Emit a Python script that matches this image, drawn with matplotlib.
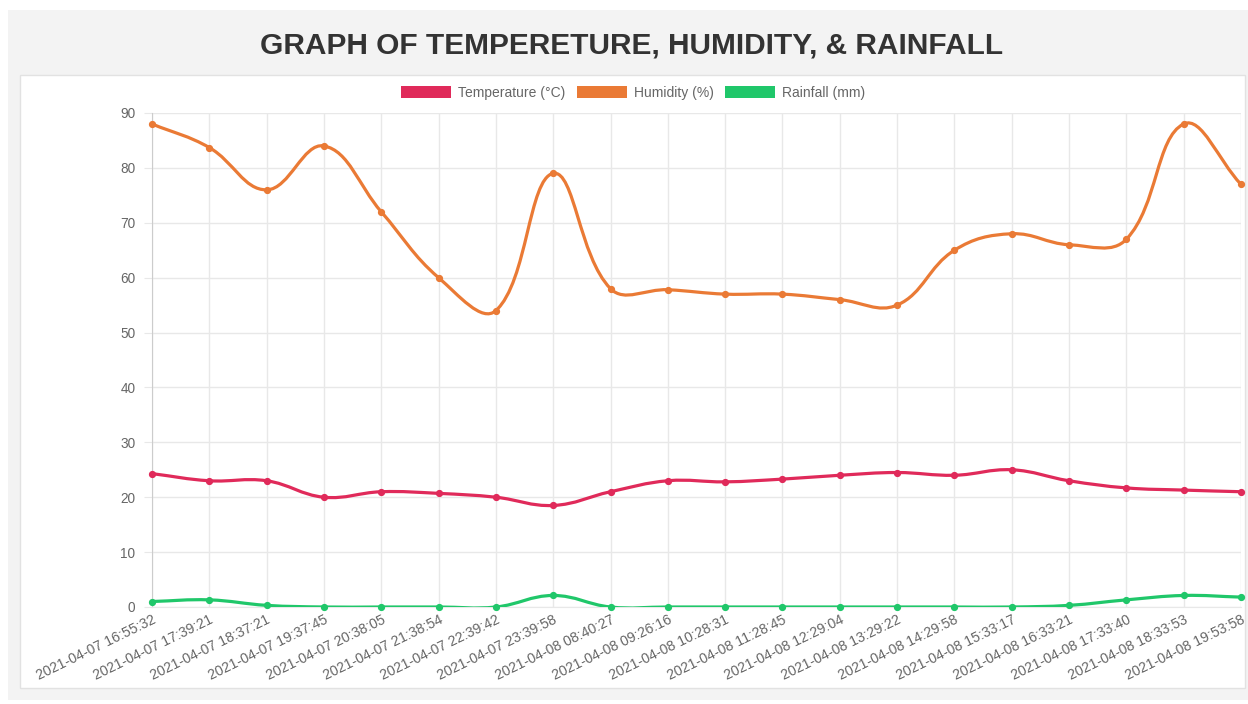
import numpy as np
import matplotlib.pyplot as plt
from matplotlib.path import Path
from matplotlib.patches import PathPatch, Rectangle

plt.rcParams['font.family'] = ['Liberation Sans', 'DejaVu Sans']

# data
times = ['2021-04-07 16:55:32', '2021-04-07 17:39:21', '2021-04-07 18:37:21',
         '2021-04-07 19:37:45', '2021-04-07 20:38:05', '2021-04-07 21:38:54',
         '2021-04-07 22:39:42', '2021-04-07 23:39:58', '2021-04-08 08:40:27',
         '2021-04-08 09:26:16', '2021-04-08 10:28:31', '2021-04-08 11:28:45',
         '2021-04-08 12:29:04', '2021-04-08 13:29:22', '2021-04-08 14:29:58',
         '2021-04-08 15:33:17', '2021-04-08 16:33:21', '2021-04-08 17:33:40',
         '2021-04-08 18:33:53', '2021-04-08 19:53:58']
temperature = [24.3, 23.0, 23.0, 20.0, 21.0, 20.7, 20.0, 18.5, 21.0, 23.0,
               22.8, 23.3, 24.0, 24.5, 24.0, 25.0, 23.0, 21.7, 21.3, 21.0]
humidity = [88, 83.7, 76, 84, 72, 60, 54, 79, 58, 57.8,
            57, 57, 56, 55, 65, 68, 66, 67, 88, 77]
rainfall = [1.0, 1.3, 0.3, 0, 0, 0, 0, 2.1, 0, 0,
            0, 0, 0, 0, 0, 0, 0.3, 1.3, 2.1, 1.8]

series = [('Temperature (°C)', temperature, '#e02a5a'),
          ('Humidity (%)', humidity, '#ea7a35'),
          ('Rainfall (mm)', rainfall, '#20c76a')]

XPX = 57.3   # px per category
YPX = 5.49   # px per unit


def spline_path(xs, ys, t=0.4):
    # chart.js style cubic bezier through the points
    px = np.asarray(xs, float) * XPX
    py = np.asarray(ys, float) * YPX
    n = len(px)
    cp_prev = np.zeros((n, 2))
    cp_next = np.zeros((n, 2))
    for i in range(n):
        a = max(i - 1, 0)
        b = min(i + 1, n - 1)
        d01 = np.hypot(px[i] - px[a], py[i] - py[a])
        d12 = np.hypot(px[b] - px[i], py[b] - py[i])
        tot = d01 + d12
        s01 = d01 / tot if tot else 0
        s12 = d12 / tot if tot else 0
        dx, dy = px[b] - px[a], py[b] - py[a]
        cp_prev[i] = [px[i] - t * s01 * dx, py[i] - t * s01 * dy]
        cp_next[i] = [px[i] + t * s12 * dx, py[i] + t * s12 * dy]
    verts = [(px[0], py[0])]
    codes = [Path.MOVETO]
    for i in range(1, n):
        verts += [tuple(cp_next[i - 1]), tuple(cp_prev[i]), (px[i], py[i])]
        codes += [Path.CURVE4] * 3
    verts = [(vx / XPX, vy / YPX) for vx, vy in verts]
    return Path(verts, codes)


fig = plt.figure(figsize=(12.48, 7.04), dpi=100)
fig.patch.set_facecolor('white')

# gray panel + white card
fig.patches.append(Rectangle((8 / 1248, 4 / 704), 1240 / 1248, 690 / 704,
                             transform=fig.transFigure, facecolor='#f3f3f3',
                             edgecolor='none', zorder=-3))
fig.patches.append(Rectangle((20 / 1248, (704 - 688) / 704), 1225 / 1248, 613 / 704,
                             transform=fig.transFigure, facecolor='white',
                             edgecolor='#e2e2e2', lw=1, zorder=-2))

fig.text(632 / 1248, 1 - 46 / 704, 'GRAPH OF TEMPERETURE, HUMIDITY, & RAINFALL',
         ha='center', va='center', fontsize=21.5, fontweight='bold', color='#333333')

ax = fig.add_axes([152 / 1248, 1 - 607 / 704, (1241 - 152) / 1248, (607 - 113) / 704])
ax.set_facecolor('none')
x = np.arange(len(times))
for label, vals, col in series:
    ax.add_patch(PathPatch(spline_path(x, vals), facecolor='none', edgecolor=col,
                           lw=2.3, zorder=3, capstyle='round'))
    ax.plot(x, vals, 'o', color=col, ms=4.2, zorder=4, clip_on=False)

ax.set_xlim(0, len(times) - 1)
ax.set_ylim(0, 90)
ax.set_yticks(np.arange(0, 91, 10))
ax.set_xticks(x)
ax.set_xticklabels(times, rotation=26, ha='right', rotation_mode='anchor')
ax.tick_params(axis='x', labelsize=10.2, colors='#666666', length=0, pad=4)
ax.tick_params(axis='y', labelsize=9.8, colors='#666666', length=6, pad=6)
ax.tick_params(axis='y', color='#e8e8e8')
ax.grid(True, color='#e8e8e8', lw=1)
ax.set_axisbelow(True)
for s in ['top', 'right']:
    ax.spines[s].set_visible(False)
ax.spines['left'].set_color('#cccccc')
ax.spines['bottom'].set_color('#e8e8e8')

handles = [Rectangle((0, 0), 1, 1, facecolor=c) for _, _, c in series]
fig.legend(handles, [s[0] for s in series], loc='center', ncol=3,
           bbox_to_anchor=(633 / 1248, 1 - 93 / 704), frameon=False,
           fontsize=10, labelcolor='#666666', handlelength=3.6, handleheight=1.0,
           handletextpad=0.5, columnspacing=0.8)

fig.savefig('out.png', dpi=100)
